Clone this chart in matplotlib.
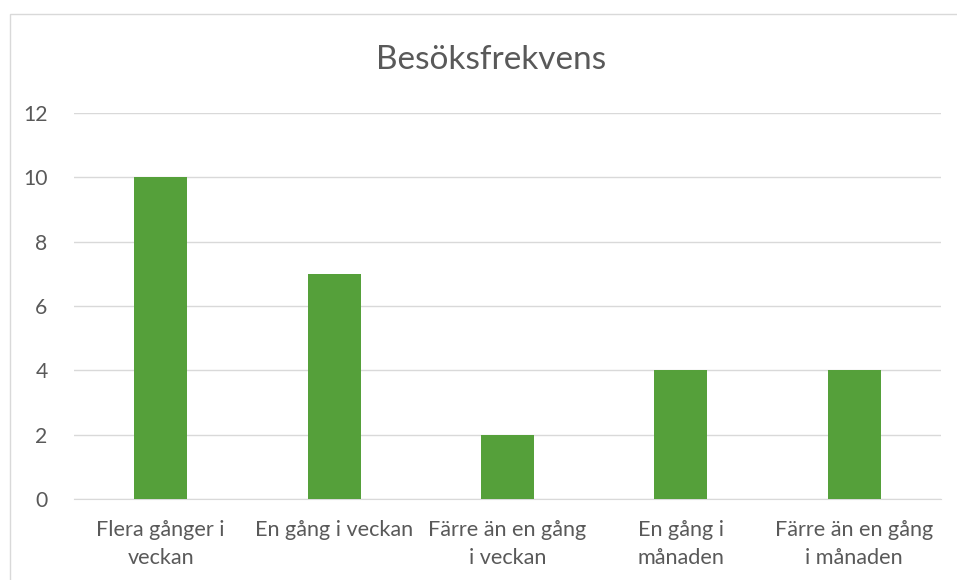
import matplotlib
matplotlib.use("Agg")
import matplotlib.pyplot as plt
from matplotlib.patches import Rectangle

categories = ["Flera gånger i\nveckan", "En gång i veckan", "Färre än en gång\ni veckan",
              "En gång i\nmånaden", "Färre än en gång\ni månaden"]
values = [10, 7, 2, 4, 4]
yticks = [0, 2, 4, 6, 8, 10, 12]
title = "Besöksfrekvens"

plt.rcParams['font.family'] = ['Lato', 'DejaVu Sans']
txt = '#595959'

fig = plt.figure(figsize=(9.57, 5.8), dpi=100)
fig.patches.append(Rectangle((10/957, -0.1), 1.2, (1 - 14/580) + 0.1, transform=fig.transFigure,
                             fill=False, edgecolor='#d9d9d9', linewidth=1))
ax = fig.add_axes([74/957, 1 - 499/580, (941 - 74)/957, (499 - 113)/580])
x = list(range(len(categories)))
ax.bar(x, values, width=0.306, color='#55A03A', zorder=3)
ax.set_xlim(-0.5, len(categories) - 0.5)
ax.set_ylim(0, 12)
ax.set_yticks(yticks)
ax.set_yticklabels([str(t) for t in yticks])
ax.set_xticks(x)
ax.set_xticklabels(categories, linespacing=1.5, fontsize=15.6)
ax.grid(axis='y', color='#d9d9d9', linewidth=1, zorder=0)
for s in ['top', 'right', 'left']:
    ax.spines[s].set_visible(False)
ax.spines['bottom'].set_color('#d9d9d9')
ax.tick_params(axis='both', length=0, colors=txt)
ax.tick_params(axis='y', pad=19, labelsize=15.2)
ax.tick_params(axis='x', pad=15)
fig.text(491/957, 1 - 60/580, title, ha='center', va='center', fontsize=24, color=txt)
fig.savefig("out.png", dpi=100)
